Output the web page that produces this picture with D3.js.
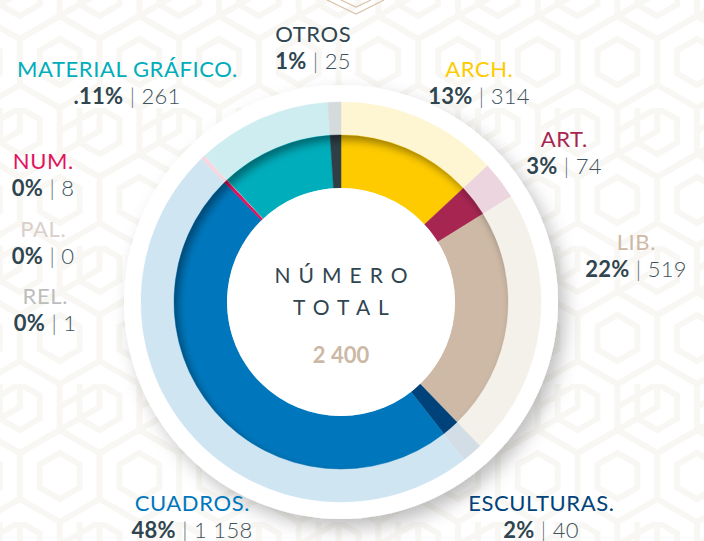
<!DOCTYPE html>
<html>
<head>
<meta charset="utf-8">
<script src="https://cdn.jsdelivr.net/npm/d3@7"></script>
<style>
  body { margin: 0; background: #fff; }
  svg { display: block; font-family: Lato, "Open Sans", sans-serif; }
</style>
</head>
<body>
<svg class="acervo" width="704" height="541"></svg>
<script>
// categorías en el orden del anillo (sentido horario desde las 12)
var categorias = ["ARCH.", "ART.", "LIB.", "ESCULTURAS.", "CUADROS.", "NUM.", "PAL.", "REL.", "MATERIAL GRÁFICO.", "OTROS"];
var valores = [314, 74, 519, 40, 1158, 8, 0, 1, 261, 25];
var porcentajes = ["13%", "3%", "22%", "2%", "48%", "0%", "0%", "0%", ".11%", "1%"];
var total = 2400;

var colores = ["#fecb00", "#a62651", "#cdb9a5", "#00437a", "#0077bd", "#e3125e", "#d9cfcb", "#bdbdbd", "#00adbb", "#2e3f47"];
var coloresClaros = ["#fef5d2", "#ecd5de", "#f4f0ea", "#d2dde6", "#cfe5f2", "#f6d6e1", "#efebe8", "#e6e6e6", "#cdedf0", "#d5dadd"];

// donde va cada etiqueta (centro x, línea base del nombre)
var posEtiquetas = [
  [479, 77], [564, 147], [636, 250], [541, 511], [192, 511],
  [43, 169], [43, 237], [45, 304], [127, 77], [313, 42]
];

var svg = d3.select("svg.acervo"),
    width = +svg.attr("width"),
    height = +svg.attr("height"),
    cx = 341, cy = 302,
    rHueco = 114, rInterior = 167, rExterior = 200, rDisco = 217;

var fmt = d3.formatLocale({decimal: ",", thousands: "\u2009", grouping: [3], currency: ["$", ""]}).format(",d");
var fmtNum = function (n) { return fmt(n).replace(/\u2009/g, " "); };

var defs = svg.append("defs");

// fondo con trama hexagonal muy tenue
var s = 46, pw = Math.sqrt(3) * s, ph = 3 * s;
var pat = defs.append("pattern")
    .attr("id", "trama")
    .attr("patternUnits", "userSpaceOnUse")
    .attr("width", pw).attr("height", ph)
    .attr("x", -20).attr("y", -30);
var hexPath = function (x, y, r) {
  var pts = d3.range(6).map(function (i) {
    var a = Math.PI / 3 * i + Math.PI / 6;
    return [x + r * Math.cos(a), y + r * Math.sin(a)];
  });
  return "M" + pts.join("L") + "Z";
};
[[pw / 2, s / 2], [0, 2 * s], [pw, 2 * s], [pw / 2, -s], [0, -s + 3 * s / 2 - s / 2]].forEach(function (c) {
  pat.append("path").attr("d", hexPath(c[0], c[1], s))
    .attr("fill", "none").attr("stroke", "#f9f7f3").attr("stroke-width", 6);
  pat.append("path").attr("d", hexPath(c[0], c[1], s * 0.5))
    .attr("fill", "none").attr("stroke", "#f9f7f3").attr("stroke-width", 6);
});
svg.append("rect").attr("width", width).attr("height", height).attr("fill", "url(#trama)");

// adorno superior
var adorno = svg.append("g").attr("fill", "none").attr("stroke", "#d9c4aa").attr("stroke-width", 1.2);
adorno.append("path").attr("d", "M327,0L356,14L384,0");
adorno.append("path").attr("d", "M341,0L356,7L371,0");

// sombras
var sombra = defs.append("filter").attr("id", "sombra")
    .attr("x", "-20%").attr("y", "-20%").attr("width", "140%").attr("height", "140%");
sombra.append("feDropShadow")
    .attr("dx", 7).attr("dy", 9).attr("stdDeviation", 9)
    .attr("flood-color", "#000").attr("flood-opacity", 0.25);

var interna = defs.append("filter").attr("id", "interna")
    .attr("x", "-10%").attr("y", "-10%").attr("width", "120%").attr("height", "120%");
interna.append("feOffset").attr("in", "SourceAlpha").attr("dx", 4).attr("dy", 5);
interna.append("feGaussianBlur").attr("stdDeviation", 4);
interna.append("feComponentTransfer").append("feFuncA").attr("type", "linear").attr("slope", 0.4);

defs.append("clipPath").attr("id", "corteAnillo")
  .append("circle").attr("cx", cx).attr("cy", cy).attr("r", rInterior);

var g = svg.append("g").attr("transform", "translate(" + cx + "," + cy + ")");

g.append("circle").attr("r", rDisco).attr("fill", "#fff").attr("filter", "url(#sombra)");

var pie = d3.pie().sort(null).value(function (d) { return d; });
var arcos = pie(valores);

var arcExterior = d3.arc().innerRadius(rInterior - 1).outerRadius(rExterior);
var arcInterior = d3.arc().innerRadius(rHueco).outerRadius(rInterior);

g.selectAll(".exterior")
  .data(arcos)
  .enter().append("path")
    .attr("class", "exterior")
    .attr("d", arcExterior)
    .attr("fill", function (d, i) { return coloresClaros[i]; })
    .attr("stroke", function (d, i) { return coloresClaros[i]; })
    .attr("stroke-width", 0.5);

g.selectAll(".interior")
  .data(arcos)
  .enter().append("path")
    .attr("class", "interior")
    .attr("d", arcInterior)
    .attr("fill", function (d, i) { return colores[i]; })
    .attr("stroke", function (d, i) { return colores[i]; })
    .attr("stroke-width", 0.5);

// sombreado del borde exterior del anillo de color
svg.append("g").attr("clip-path", "url(#corteAnillo)")
  .append("path")
    .attr("fill-rule", "evenodd")
    .attr("filter", "url(#interna)")
    .attr("d", "M" + (cx - 260) + "," + (cy - 260) + "h520v520h-520Z" +
      "M" + (cx + rInterior) + "," + cy +
      "A" + rInterior + "," + rInterior + " 0 1 0 " + (cx - rInterior) + "," + cy +
      "A" + rInterior + "," + rInterior + " 0 1 0 " + (cx + rInterior) + "," + cy + "Z");

g.append("circle").attr("r", rHueco).attr("fill", "#fff");

// texto central
g.append("text")
    .attr("text-anchor", "middle").attr("y", -19).attr("dx", 4)
    .style("font-size", "21px").style("letter-spacing", "8px").style("fill", "#2f4550")
    .text("NÚMERO");
g.append("text")
    .attr("text-anchor", "middle").attr("y", 13).attr("dx", 4)
    .style("font-size", "21px").style("letter-spacing", "8px").style("fill", "#2f4550")
    .text("TOTAL");
g.append("text")
    .attr("text-anchor", "middle").attr("y", 61)
    .style("font-size", "22px").style("font-weight", "bold").style("fill", "#cbb9a5")
    .text(fmtNum(total));

// etiquetas
var etiqueta = svg.selectAll(".etiqueta")
  .data(categorias)
  .enter().append("g")
    .attr("class", "etiqueta")
    .attr("transform", function (d, i) { return "translate(" + posEtiquetas[i][0] + "," + posEtiquetas[i][1] + ")"; });

etiqueta.append("text")
    .attr("text-anchor", "middle")
    .attr("dx", 0.3)
    .style("font-size", "22px")
    .style("letter-spacing", "0.6px")
    .style("fill", function (d, i) { return d === "OTROS" ? "#2f4550" : colores[i]; })
    .text(function (d) { return d; });

var linea = etiqueta.append("text")
    .attr("text-anchor", "middle")
    .attr("y", 26.5)
    .style("font-size", "22px")
    .style("letter-spacing", "0.3px")
    .style("fill", "#2f4550");
linea.append("tspan")
    .style("font-weight", "bold")
    .text(function (d, i) { return porcentajes[i]; });
linea.append("tspan")
    .style("fill", "#5d6d76")
    .style("font-weight", 300)
    .text(" | ");
linea.append("tspan")
    .style("fill", "#3d525c")
    .style("font-weight", 300)
    .text(function (d, i) { return fmtNum(valores[i]); });
</script>
</body>
</html>
